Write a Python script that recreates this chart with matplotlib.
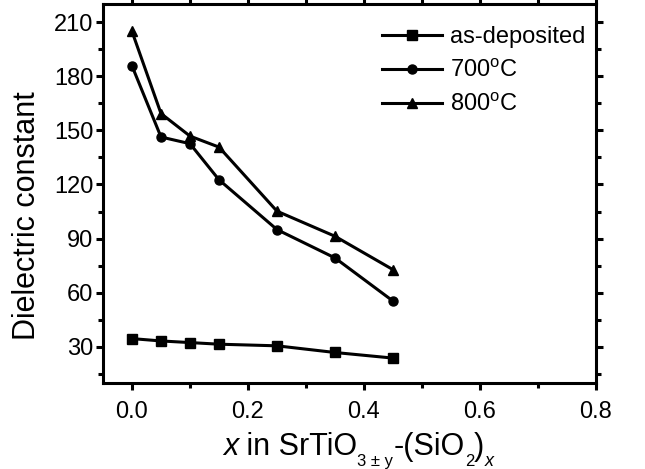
import matplotlib
matplotlib.use("Agg")
import matplotlib.pyplot as plt
from matplotlib.ticker import MultipleLocator

plt.rcParams['font.family'] = 'Liberation Sans'
plt.rcParams['mathtext.fontset'] = 'custom'
plt.rcParams['mathtext.rm'] = 'Liberation Sans'
plt.rcParams['mathtext.it'] = 'Liberation Sans:italic'

# SiO2 fraction
x = [0.0, 0.05, 0.10, 0.15, 0.25, 0.35, 0.45]

# dielectric constant for each anneal condition
as_deposited = [34.6, 33.3, 32.4, 31.5, 30.6, 26.9, 23.8]
t700 = [185.7, 146.3, 142.6, 122.6, 95.0, 79.3, 55.4]
t800 = [204.8, 159.3, 146.8, 140.7, 105.2, 91.3, 72.8]

labels = ['as-deposited', '700$^{\\rm o}$C', '800$^{\\rm o}$C']
xtick_labels = ['0.0', '0.2', '0.4', '0.6', '0.8']

W, H = 645, 469
fig = plt.figure(figsize=(W / 100, H / 100), dpi=100)
ax = fig.add_axes([103 / W, 1 - 383 / H, (596 - 103) / W, (383 - 4) / H])

ax.plot(x, as_deposited, color='black', lw=2.2, marker='s', ms=6.5, label=labels[0])
ax.plot(x, t700, color='black', lw=2.2, marker='o', ms=6.5, label=labels[1])
ax.plot(x, t800, color='black', lw=2.2, marker='^', ms=7.5, label=labels[2])

ax.set_xlim(-0.05, 0.8)
ax.set_ylim(10, 220)
ax.xaxis.set_minor_locator(MultipleLocator(0.1))
ax.yaxis.set_major_locator(MultipleLocator(30))
ax.yaxis.set_minor_locator(MultipleLocator(15))
ax.set_xticks([0.0, 0.2, 0.4, 0.6, 0.8])
ax.set_xticklabels(xtick_labels)

for s in ax.spines.values():
    s.set_linewidth(2.2)
ax.tick_params(which='both', direction='out', top=True, right=True, width=2.2, labelsize=17)
ax.tick_params(which='major', length=5)
ax.tick_params(which='minor', length=3.5)
ax.tick_params(axis='y', pad=2)
ax.tick_params(axis='x', pad=8)

# y label (sits a bit below the axes centre in the original)
fig.text(27 / W, 1 - 216 / H, 'Dielectric constant', rotation=90, fontsize=22,
         ha='center', va='center')

# x label built piece by piece so the subscripts can be small
renderer = fig.canvas.get_renderer()
pieces = [('x', 22, 'italic', 0), (' in SrTiO', 22, 'normal', 0), ('3 \u00b1 y', 12, 'normal', 1),
          ('-(SiO', 22, 'normal', 0), ('2', 12, 'normal', 1), (')', 22, 'normal', 0),
          ('x', 13, 'italic', 1)]
xpos = 223
for txt, size, style, sub in pieces:
    ybase = 466 if sub else 455
    t = fig.text(xpos / W, 1 - ybase / H, txt, fontsize=size, style=style,
                 ha='left', va='baseline')
    bb = t.get_window_extent(renderer)
    xpos = bb.x1

ax.legend(loc='upper left', bbox_to_anchor=(382 / W, 1 - 26 / H), bbox_transform=fig.transFigure,
          frameon=False, fontsize=17, borderpad=0, borderaxespad=0,
          handlelength=2.55, handletextpad=0.35, labelspacing=0.5)

fig.savefig('out.png', dpi=100)
